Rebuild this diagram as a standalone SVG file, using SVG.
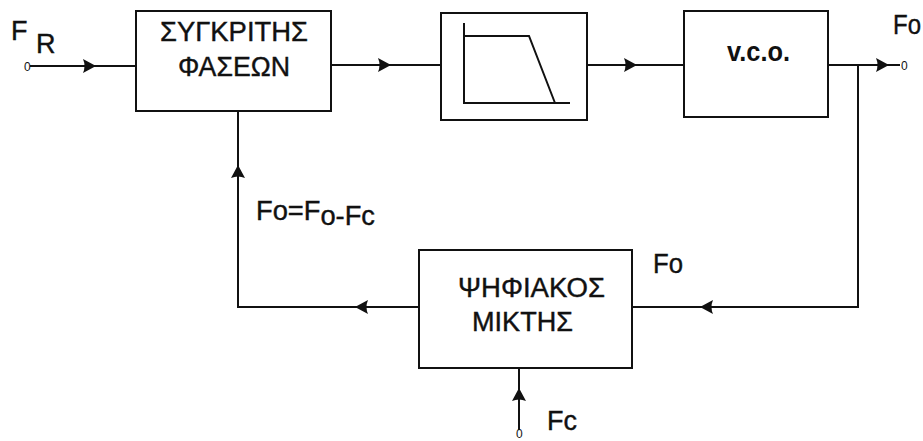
<svg xmlns="http://www.w3.org/2000/svg" xmlns:xlink="http://www.w3.org/1999/xlink" width="923" height="441" viewBox="0 0 923 441">
<style>
.box{fill:none;stroke:#111;stroke-width:2}
.ln{fill:none;stroke:#111;stroke-width:2}
.t{font-family:"Liberation Sans",Arial,sans-serif;fill:#111;font-size:27px;stroke:#111;stroke-width:0.4}
.b{font-weight:bold;stroke-width:0}
.z{font-family:"Liberation Sans",Arial,sans-serif;fill:#111;font-size:12px}
</style>
<defs>
<path id="arr" d="M-6,-7 Q-3,0 -6,7 L7,0 Z" fill="#111"/>
</defs>
<rect width="923" height="441" fill="#fff"/>
<g id="connectors">
<path class="ln" d="M30,66 H136"/>
<path class="ln" d="M331,65 H441"/>
<path class="ln" d="M587,65 H684"/>
<path class="ln" d="M828,65 H900"/>
<path class="ln" d="M858,65 V307 H632"/>
<path class="ln" d="M419,307 H238 V111"/>
<path class="ln" d="M519,430 V368"/>
<use xlink:href="#arr" transform="translate(89,66)"/>
<use xlink:href="#arr" transform="translate(384,65)"/>
<use xlink:href="#arr" transform="translate(630,65)"/>
<use xlink:href="#arr" transform="translate(882,65)"/>
<use xlink:href="#arr" transform="translate(707,307) rotate(180)"/>
<use xlink:href="#arr" transform="translate(362,307) rotate(180)"/>
<use xlink:href="#arr" transform="translate(238,172) rotate(-90)"/>
<use xlink:href="#arr" transform="translate(519,395) rotate(-90)"/>
</g>
<g id="comparator">
<rect class="box" x="136" y="11" width="195" height="100"/>
<text class="t" x="160" y="41" textLength="148" lengthAdjust="spacingAndGlyphs">ΣΥΓΚΡΙΤΗΣ</text>
<text class="t" x="178" y="76" textLength="112" lengthAdjust="spacingAndGlyphs">ΦΑΣΕΩΝ</text>
</g>
<g id="filter">
<rect class="box" x="441" y="13" width="146" height="107"/>
<path class="ln" d="M464,23 V103 H570 M464,36 H529 L555,103"/>
</g>
<g id="vco">
<rect class="box" x="684" y="11" width="144" height="106"/>
<text class="t b" x="727" y="61" font-size="24" textLength="63" lengthAdjust="spacingAndGlyphs">v.c.o.</text>
</g>
<g id="mixer">
<rect class="box" x="419" y="250" width="213" height="118"/>
<text class="t" x="458" y="297" textLength="147" lengthAdjust="spacingAndGlyphs">ΨΗΦΙΑΚΟΣ</text>
<text class="t" x="472" y="331" textLength="101" lengthAdjust="spacingAndGlyphs">ΜΙΚΤΗΣ</text>
</g>
<g id="labels">
<text class="t" x="11" y="40" font-size="30">F</text>
<text class="t" x="36" y="53" font-size="21" stroke-width="0">R</text>
<text class="z" x="24" y="71">0</text>
<text class="t" x="893" y="34" textLength="28" lengthAdjust="spacingAndGlyphs">Fo</text>
<text class="z" x="901" y="70">0</text>
<text class="t" x="256" y="220" textLength="119" lengthAdjust="spacingAndGlyphs">Fo=F<tspan dy="5">o-Fc</tspan></text>
<text class="t" x="653" y="273" textLength="30" lengthAdjust="spacingAndGlyphs">Fo</text>
<text class="t" x="547" y="430" textLength="30" lengthAdjust="spacingAndGlyphs">Fc</text>
<text class="z" x="516" y="438" font-size="10">0</text>
</g>
</svg>
